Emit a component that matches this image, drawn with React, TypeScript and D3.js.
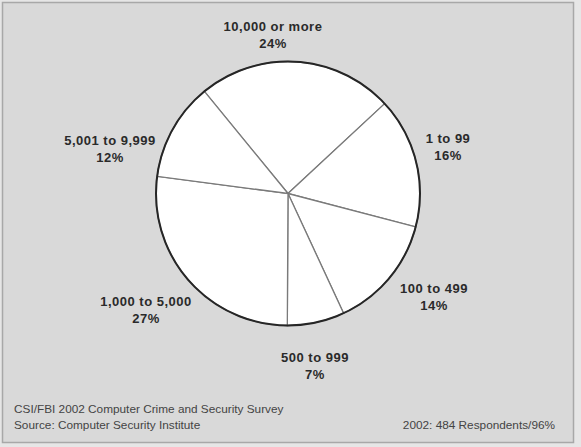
import React from "react";
import * as d3 from "d3";

const categories = ["10,000 or more", "1 to 99", "100 to 499", "500 to 999", "1,000 to 5,000", "5,001 to 9,999"];
const values = [24, 16, 14, 7, 27, 12];
const footerLeft = ["CSI/FBI 2002 Computer Crime and Security Survey", "Source: Computer Security Institute"];
const footerRight = "2002: 484 Respondents/96%";

// label layout (text annotation anchors)
const labelPos: [number, number][] = [
  [273, 30.5],
  [448, 143],
  [434, 293],
  [315, 361.5],
  [146, 305.5],
  [110, 144.5],
];

const W = 581;
const H = 447;
const cx = 288;
const cy = 193.5;
const R = 132;
const startDeg = -39.3;

export default function App() {
  const start = (startDeg * Math.PI) / 180;
  const pie = d3
    .pie<number>()
    .sort(null)
    .value((d) => d)
    .startAngle(start)
    .endAngle(start + 2 * Math.PI);
  const arcs = pie(values);
  const arcGen = d3.arc<d3.PieArcDatum<number>>().innerRadius(0).outerRadius(R);

  return (
    <svg
      width={W}
      height={H}
      style={{ position: "absolute", left: 0, top: 0, display: "block" }}
      fontFamily="'Liberation Sans', Arial, Helvetica, sans-serif"
    >
      <rect x={0} y={0} width={W} height={H} fill="#e6e6e6" />
      <rect x={2.5} y={2.5} width={571} height={440} fill="#d9d9d9" stroke="#a8a8a8" strokeWidth={1.5} />
      <g transform={`translate(${cx},${cy})`}>
        {arcs.map((a, i) => (
          <path key={i} d={arcGen(a) || ""} fill="#ffffff" stroke="#7a7a7a" strokeWidth={1.3} />
        ))}
        <circle r={R} fill="none" stroke="#262626" strokeWidth={2} />
      </g>
      {categories.map((c, i) => (
        <text
          key={c}
          x={labelPos[i][0]}
          y={labelPos[i][1]}
          textAnchor="middle"
          fontSize={13}
          fontWeight="bold"
          letterSpacing={0.5}
          fill="#2a2a2a"
        >
          <tspan x={labelPos[i][0]}>{c}</tspan>
          <tspan x={labelPos[i][0]} dy={17}>{values[i]}%</tspan>
        </text>
      ))}
      {footerLeft.map((t, i) => (
        <text key={t} x={14} y={412.5 + i * 16} fontSize={11.8} fill="#444" letterSpacing={0}>
          {t}
        </text>
      ))}
      <text x={555} y={428.5} fontSize={11.8} fill="#444" textAnchor="end" letterSpacing={0}>
        {footerRight}
      </text>
    </svg>
  );
}
